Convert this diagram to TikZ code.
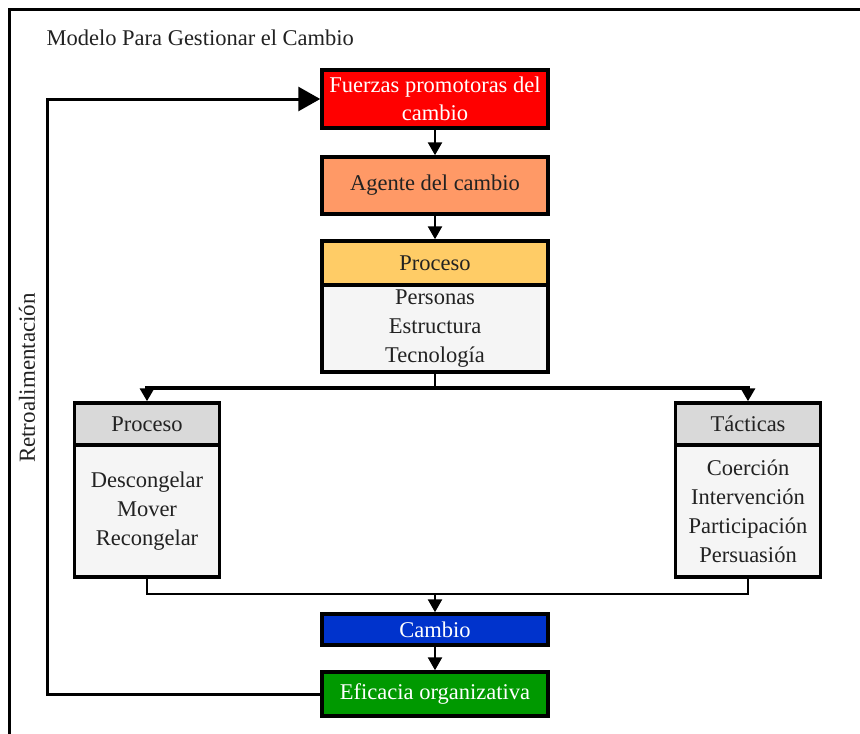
\documentclass[tikz,border=0pt]{standalone}
\usepackage{fontspec}
\setmainfont{Liberation Serif}
\usetikzlibrary{arrows.meta}
\definecolor{cred}{HTML}{FF0000}
\definecolor{corange}{HTML}{FF9966}
\definecolor{cyellow}{HTML}{FFCC66}
\definecolor{cgrayh}{HTML}{D9D9D9}
\definecolor{cbody}{HTML}{F5F5F5}
\definecolor{cblue}{HTML}{0033CC}
\definecolor{cgreen}{HTML}{009900}
\definecolor{ctext}{HTML}{222222}
\tikzset{
  box/.style={draw=black, line width=3.5pt, rectangle, inner sep=0pt, align=center,
    font=\fontsize{22.5}{29}\selectfont, text=ctext},
  wide/.style={box, minimum width=226pt},
  side/.style={box, minimum width=145pt},
  conn/.style={line width=2.6pt},
  arr/.style={conn, -{Triangle[length=13pt,width=14pt]}},
  bigarr/.style={conn, -{Triangle[length=22pt,width=24pt]}}
}
\begin{document}
\begin{tikzpicture}[x=1pt,y=-1pt]
\clip (0,0) rectangle (860,734);
\fill[white] (0,0) rectangle (860,734);
\draw[line width=3pt] (9,760) -- (9,9) -- (880,9);
\node[anchor=west, font=\fontsize{22.5}{26}\selectfont, text=ctext] (title) at (43,38) {Modelo Para Gestionar el Cambio};

\node[wide, fill=cred, text=white, minimum height=58pt, font=\fontsize{22.5}{28}\selectfont] (fuerzas) at (435,99) {Fuerzas promotoras del\\cambio};
\node[wide, fill=corange, minimum height=57pt] (agente) at (435,185.5) {Agente del cambio};
\node[wide, fill=cyellow, minimum height=44pt] (phead) at (435,263) {Proceso};
\node[wide, fill=cbody, minimum height=87pt] (pbody) at (435,328.5) {Personas\\Estructura\\Tecnología};

\node[side, fill=cgrayh, minimum height=42pt] (lhead) at (147,424) {Proceso};
\node[side, fill=cbody, minimum height=132pt] (lbody) at (147,511) {Descongelar\\Mover\\Recongelar};
\node[side, fill=cgrayh, minimum height=42pt] (rhead) at (748,424) {Tácticas};
\node[side, fill=cbody, minimum height=132pt] (rbody) at (748,511) {Coerción\\Intervención\\Participación\\Persuasión};

\node[wide, fill=cblue, text=white, minimum height=31pt] (cambio) at (435,629.5) {Cambio};
\node[wide, fill=cgreen, text=white, minimum height=44pt] (eficacia) at (435,694) {Eficacia organizativa};

\node[rotate=90, font=\fontsize{23}{26}\selectfont, text=ctext] (retro) at (27,378) {Retroalimentación};

\coordinate (split) at (435,388);
\coordinate (merge) at (435,594);
\coordinate (fb) at (47,0);

\draw[arr] (fuerzas.south) -- (agente.north);
\draw[arr] (agente.south) -- (phead.north);
\draw[conn] (pbody.south) -- (split);
\draw[arr, line width=3.2pt] (split) -| (lhead.north);
\draw[arr, line width=3.2pt] (split) -| (rhead.north);
\draw[conn, line width=2pt] (lbody.south) |- (merge) -| (rbody.south);
\draw[arr] (merge) -- (cambio.north);
\draw[arr] (cambio.south) -- (eficacia.north);
\draw[bigarr, line width=3pt] (eficacia.west) -| (fb |- fuerzas.west) -- (fuerzas.west);
\end{tikzpicture}
\end{document}
